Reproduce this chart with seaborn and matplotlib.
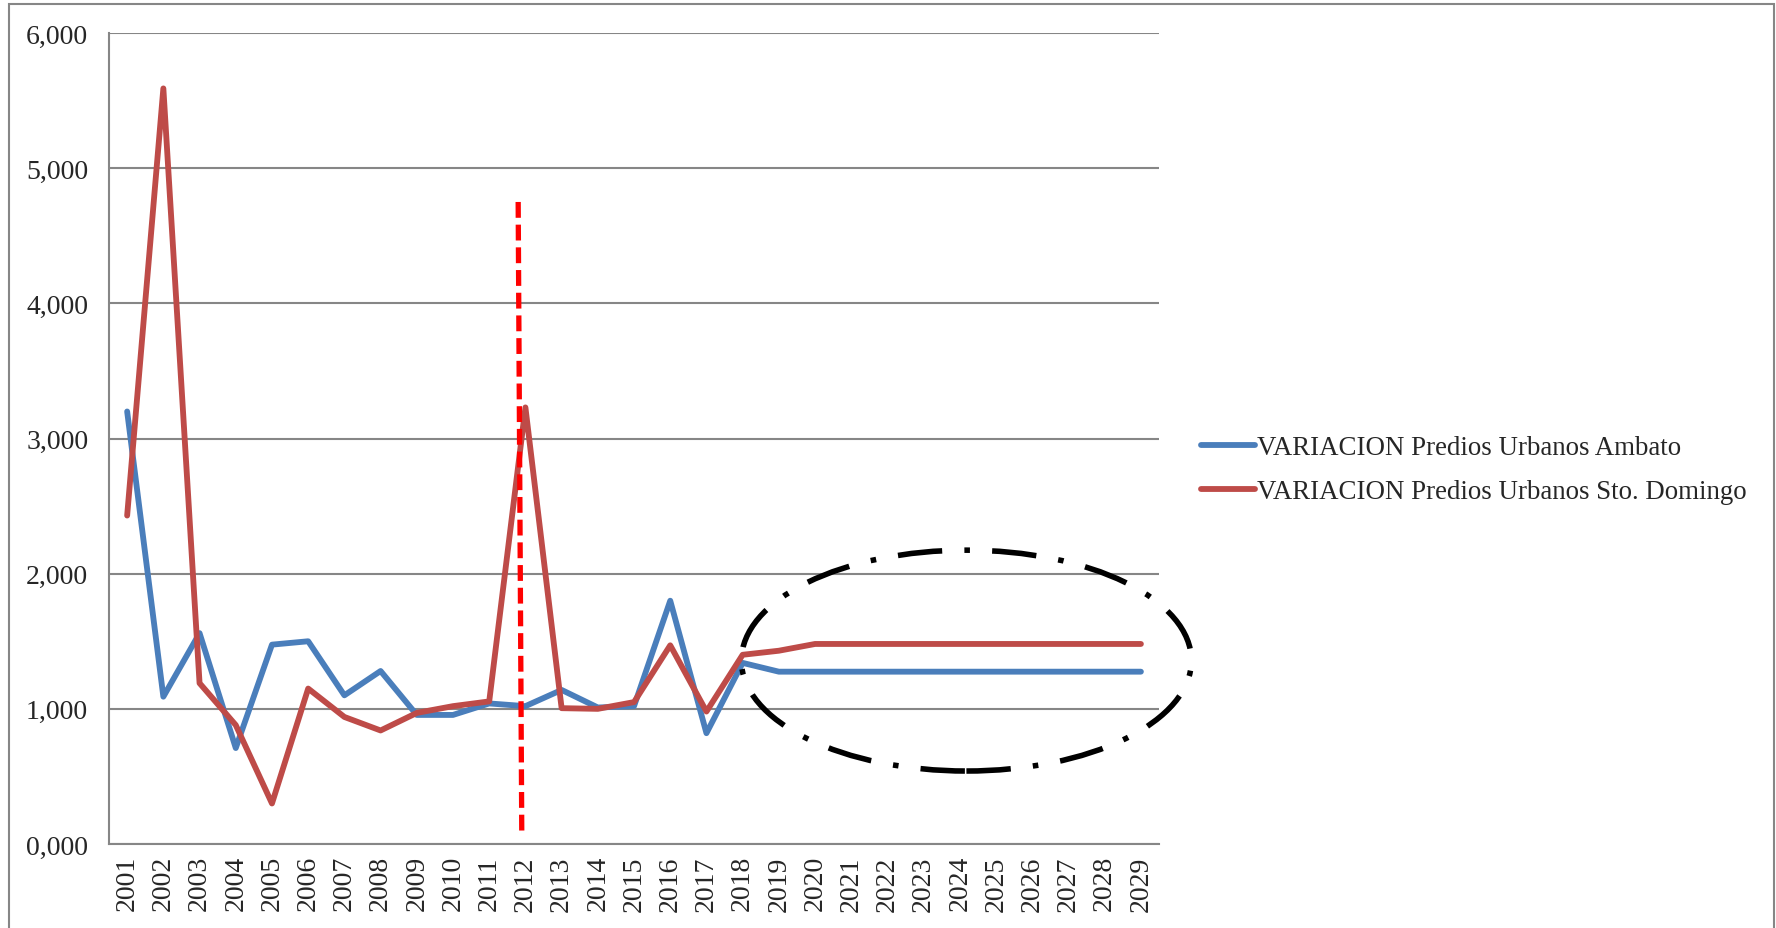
import numpy as np
import pandas as pd
import seaborn as sns
import matplotlib.pyplot as plt
from matplotlib.patches import Ellipse, Rectangle
from matplotlib.ticker import FuncFormatter, MultipleLocator

years = [str(y) for y in range(2001, 2030)]
ambato = [3.20, 1.09, 1.56, 0.71, 1.475, 1.50, 1.10, 1.28, 0.955, 0.955,
          1.04, 1.02, 1.14, 1.01, 1.02, 1.80, 0.82, 1.34, 1.275, 1.275,
          1.275, 1.275, 1.275, 1.275, 1.275, 1.275, 1.275, 1.275, 1.275]
sto_domingo = [2.43, 5.59, 1.19, 0.88, 0.30, 1.15, 0.94, 0.84, 0.97, 1.02,
               1.055, 3.23, 1.005, 1.00, 1.05, 1.47, 0.98, 1.40, 1.43, 1.48,
               1.48, 1.48, 1.48, 1.48, 1.48, 1.48, 1.48, 1.48, 1.48]
labels = ["VARIACION Predios Urbanos Ambato",
          "VARIACION Predios Urbanos Sto. Domingo"]
colors = ["#4a7ebb", "#be4b48"]

sns.set_style("white")
plt.rcParams['font.family'] = ['Liberation Serif', 'DejaVu Serif']

df = pd.DataFrame({"year": years * 2,
                   "value": ambato + sto_domingo,
                   "serie": [labels[0]] * len(years) + [labels[1]] * len(years)})

fig = plt.figure(figsize=(17.76, 9.29), dpi=100)
ax = fig.add_axes([0.0614, 0.0904, 0.5912, 0.873])

sns.lineplot(data=df, x="year", y="value", hue="serie", palette=colors,
             linewidth=4.2, ax=ax, sort=False, solid_capstyle='round')

ax.set_xlim(-0.5, len(years) - 0.5)
ax.set_ylim(0, 6)
ax.yaxis.set_major_locator(MultipleLocator(1))
ax.yaxis.set_major_formatter(FuncFormatter(lambda v, p: f"{v:.3f}".replace('.', ',')))
ax.grid(axis='y', color='#868686', linewidth=1.5)
ax.set_axisbelow(True)
for s in ['top', 'right']:
    ax.spines[s].set_visible(False)
for s in ['left', 'bottom']:
    ax.spines[s].set_color('#868686')
    ax.spines[s].set_linewidth(1.5)
ax.tick_params(axis='both', length=0, labelsize=20)
ax.tick_params(axis='y', pad=15)
ax.tick_params(axis='x', pad=8)
plt.setp(ax.get_xticklabels(), rotation=90)
ax.set_xlabel("")
ax.set_ylabel("")

# annotations: red dashed marker and dash-dot ellipse
ax.plot([10.8, 10.9], [4.75, 0.05], color='red', linestyle=(0, (3, 1.3)),
        linewidth=3.8, zorder=5)
ax.add_patch(Ellipse((23.18, 1.357), 12.43, 1.634, fill=False, edgecolor='black',
                     linewidth=4, linestyle=(0, (8, 4, 1, 4)), zorder=6, clip_on=False))

leg = ax.legend(loc='center left', bbox_to_anchor=(0.6686, 0.4935),
                bbox_transform=fig.transFigure, frameon=False, fontsize=19.4,
                handlelength=2.0, handletextpad=0.1, labelspacing=0.7, borderpad=0)
for h in leg.get_lines():
    h.set_linewidth(4.2)

fig.patches.append(Rectangle((9 / 1776, -0.05), 1765 / 1776, 1.05 - 5 / 929,
                             transform=fig.transFigure, fill=False,
                             edgecolor='#868686', linewidth=1.5))

fig.savefig("out.png", dpi=100)
